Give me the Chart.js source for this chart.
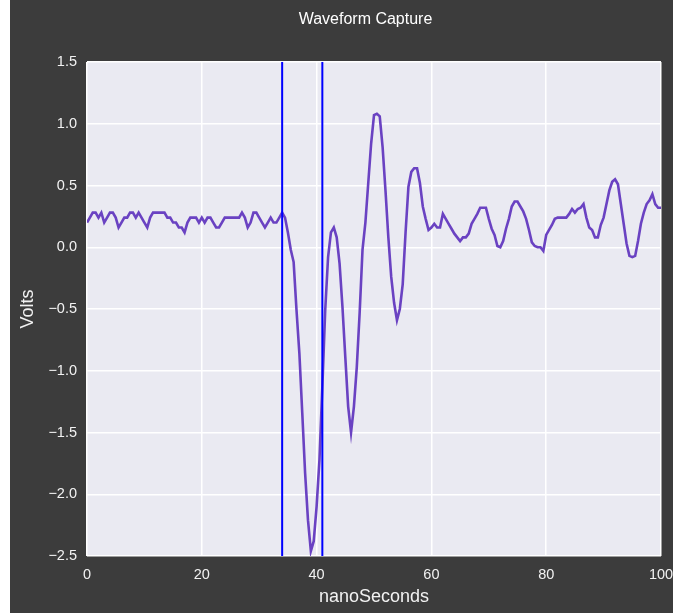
<!DOCTYPE html>
<html><head><meta charset="utf-8">
<script src="https://cdn.jsdelivr.net/npm/chart.js@4.4.1/dist/chart.umd.min.js"></script>
<style>
html,body{margin:0;padding:0;background:#ffffff;width:673px;height:613px;overflow:hidden}
#wrap{position:absolute;left:10px;top:0;width:663px;height:613px;background:#3c3c3c}
canvas{display:block}
</style></head><body>
<div id="wrap"><canvas id="c" width="663" height="613"></canvas></div>
<script>
// sample times (ns)
const timeNs = [
0,0.5,1,1.5,2,2.5,3,3.5,4,4.5,5,5.5,6,6.5,7,7.5,8,8.5,9,9.5,
10,10.5,11,11.5,12,12.5,13,13.5,14,14.5,15,15.5,16,16.5,17,17.5,18,18.5,19,19.5,
20,20.5,21,21.5,22,22.5,23,23.5,24,24.5,25,25.5,26,26.5,27,27.5,28,28.5,29,29.5,
30,30.5,31,31.5,32,32.5,33,33.5,34,34.5,35,35.5,36,36.5,37,37.5,38,38.5,39,39.5,
40,40.5,41,41.5,42,42.5,43,43.5,44,44.5,45,45.5,46,46.5,47,47.5,48,48.5,49,49.5,
50,50.5,51,51.5,52,52.5,53,53.5,54,54.5,55,55.5,56,56.5,57,57.5,58,58.5,59,59.5,
60,60.5,61,61.5,62,62.5,63,63.5,64,64.5,65,65.5,66,66.5,67,67.5,68,68.5,69,69.5,
70,70.5,71,71.5,72,72.5,73,73.5,74,74.5,75,75.5,76,76.5,77,77.5,78,78.5,79,79.5,
80,80.5,81,81.5,82,82.5,83,83.5,84,84.5,85,85.5,86,86.5,87,87.5,88,88.5,89,89.5,
90,90.5,91,91.5,92,92.5,93,93.5,94,94.5,95,95.5,96,96.5,97,97.5,98,98.5,99,99.5,
100];
// captured voltage (V)
const volts = [
0.20,0.24,0.28,0.28,0.24,0.28,0.20,0.24,0.28,0.28,0.24,0.16,0.20,0.24,0.24,0.28,0.28,0.24,0.28,0.24,
0.20,0.16,0.24,0.28,0.28,0.28,0.28,0.28,0.24,0.24,0.20,0.20,0.16,0.16,0.12,0.20,0.24,0.24,0.24,0.20,
0.24,0.20,0.24,0.24,0.20,0.16,0.16,0.20,0.24,0.24,0.24,0.24,0.24,0.24,0.28,0.24,0.16,0.20,0.28,0.28,
0.24,0.20,0.16,0.20,0.24,0.20,0.20,0.24,0.28,0.24,0.12,-0.02,-0.12,-0.51,-0.86,-1.34,-1.83,-2.21,-2.46,-2.38,
-2.10,-1.72,-1.13,-0.51,-0.08,0.12,0.16,0.08,-0.13,-0.48,-0.89,-1.29,-1.50,-1.29,-0.97,-0.53,-0.02,0.20,0.52,0.84,
1.07,1.08,1.06,0.81,0.46,0.08,-0.24,-0.45,-0.59,-0.50,-0.30,0.12,0.49,0.61,0.64,0.64,0.52,0.33,0.23,0.14,
0.16,0.19,0.16,0.16,0.27,0.23,0.19,0.15,0.11,0.08,0.05,0.08,0.08,0.11,0.19,0.23,0.27,0.32,0.32,0.32,
0.23,0.15,0.10,0.01,0.00,0.05,0.15,0.23,0.33,0.37,0.37,0.33,0.29,0.23,0.14,0.04,0.01,0.00,0.00,-0.03,
0.10,0.14,0.18,0.23,0.24,0.24,0.24,0.24,0.27,0.31,0.28,0.31,0.32,0.35,0.24,0.16,0.14,0.08,0.08,0.18,
0.24,0.35,0.46,0.53,0.55,0.51,0.35,0.19,0.03,-0.07,-0.08,-0.07,0.05,0.19,0.28,0.35,0.38,0.43,0.35,0.32,
0.32];
// trigger/marker positions (ns)
const markerNs = [34, 41];
const xTickValues = [0, 20, 40, 60, 80, 100];
const yTickValues = [-2.5, -2.0, -1.5, -1.0, -0.5, 0.0, 0.5, 1.0, 1.5];

const FONT = "'Liberation Sans', Arial, Helvetica, sans-serif";
const TXT = '#f2f2f2';

const bgPlugin = {
  id: 'bg',
  beforeDraw(chart) {
    const {ctx, chartArea: a} = chart;
    ctx.save();
    ctx.fillStyle = '#3c3c3c';
    ctx.fillRect(0, 0, chart.width, chart.height);
    ctx.fillStyle = '#eaeaf2';
    ctx.fillRect(a.left, a.top, a.right - a.left, a.bottom - a.top);
    ctx.restore();
  }
};
const titlePos = {
  id: 'titlePos',
  afterLayout(chart) {
    const t = chart.titleBlock;
    if (t) { t.left = 255; t.right = 456; }
  }
};

const waveData = timeNs.map((t, i) => ({x: t, y: volts[i]}));
const markerSets = markerNs.map(m => ({
  label: 'marker ' + m,
  data: [{x: m, y: yTickValues[0]}, {x: m, y: yTickValues[yTickValues.length - 1]}],
  borderColor: '#0000ff',
  borderWidth: 2,
  pointRadius: 0,
  order: 0
}));

new Chart(document.getElementById('c'), {
  type: 'line',
  data: {
    datasets: [{
      label: 'Waveform',
      data: waveData,
      borderColor: '#6a42c2',
      borderWidth: 2.6,
      pointRadius: 0,
      tension: 0,
      order: 1
    }, ...markerSets]
  },
  options: {
    responsive: false,
    animation: false,
    events: [],
    layout: { padding: {left: 0, right: 0, top: 0, bottom: 0}, autoPadding: false },
    plugins: {
      legend: { display: false },
      tooltip: { enabled: false },
      title: {
        display: true,
        text: 'Waveform Capture',
        color: '#ffffff',
        font: { family: FONT, size: 16, weight: 'normal', lineHeight: 1.2 },
        padding: { top: 10, bottom: 32.8 }
      }
    },
    scales: {
      x: {
        type: 'linear',
        min: 0, max: 100,
        afterBuildTicks: s => { s.ticks = xTickValues.map(v => ({value: v})); },
        afterFit: s => { s.height = 57; s.paddingRight = 12; s.paddingLeft = 0; },
        grid: { color: '#ffffff', lineWidth: 1.5, drawTicks: false },
        border: { display: false },
        ticks: {
          color: TXT, padding: 10, maxRotation: 0, autoSkip: false,
          font: { family: FONT, size: 14.5 },
          callback: v => String(v)
        },
        title: {
          display: true, text: 'nanoSeconds', color: TXT,
          font: { family: FONT, size: 18, lineHeight: 1.2 },
          padding: { top: 0, bottom: 5 }
        }
      },
      y: {
        type: 'linear',
        min: -2.5, max: 1.5,
        afterBuildTicks: s => { s.ticks = yTickValues.map(v => ({value: v})); },
        afterFit: s => { s.width = 77; s.paddingTop = 0; s.paddingBottom = 0; },
        grid: { color: '#ffffff', lineWidth: 1.5, drawTicks: false },
        border: { display: false },
        ticks: {
          color: TXT, padding: 10, autoSkip: false,
          font: { family: FONT, size: 14.5 },
          callback: v => Number(v).toFixed(1).replace('-', '\u2212')
        },
        title: {
          display: true, text: 'Volts', color: TXT,
          font: { family: FONT, size: 18, lineHeight: 1.2 },
          padding: { top: 7, bottom: 0 }
        }
      }
    }
  },
  plugins: [bgPlugin, titlePos]
});
</script>
</body></html>
